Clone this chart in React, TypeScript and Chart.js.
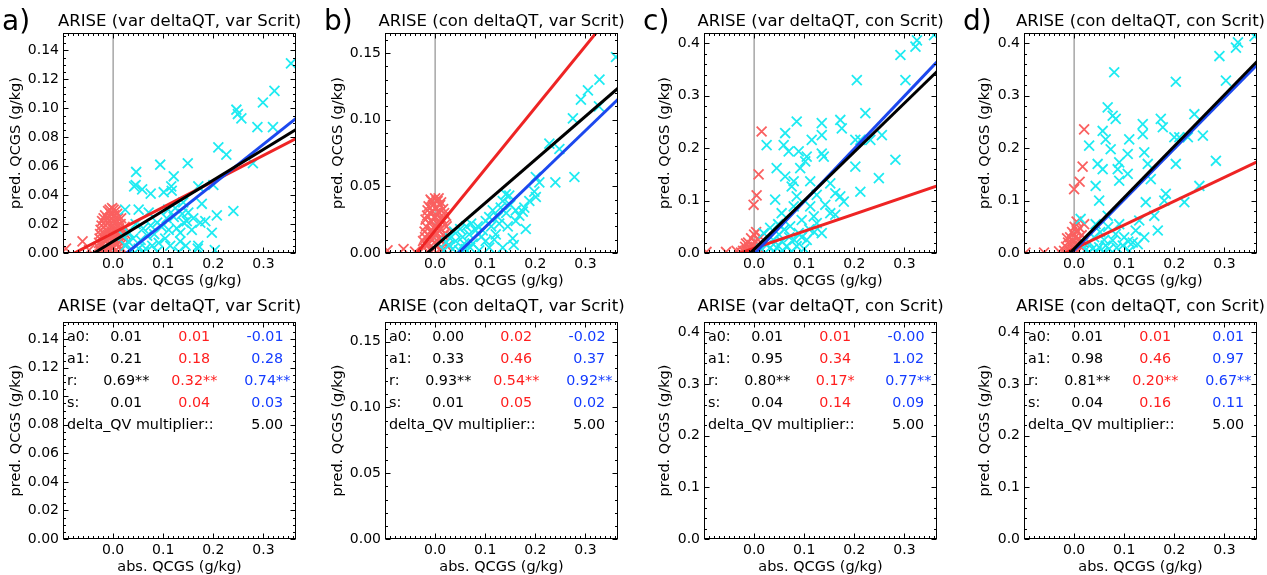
import React, { useEffect, useRef } from 'react';
import { Chart, registerables } from 'chart.js';
Chart.register(...registerables);

// ---------- axes ----------
const X_MIN = -0.1;
const X_MAX = 0.365;
const xTickValues = [0.0, 0.1, 0.2, 0.3];
const xMinorStep = 0.01;
const xMajorStep = 0.1;

const panelLetters = ['a)', 'b)', 'c)', 'd)'];
const panelTitles = [
  'ARISE (var deltaQT, var Scrit)',
  'ARISE (con deltaQT, var Scrit)',
  'ARISE (var deltaQT, con Scrit)',
  'ARISE (con deltaQT, con Scrit)',
];
const xAxisTitle = 'abs. QCGS (g/kg)';
const yAxisTitle = 'pred. QCGS (g/kg)';

const yMaxValues = [0.152, 0.165, 0.42, 0.42];
const yTickValues = [
  [0, 0.02, 0.04, 0.06, 0.08, 0.1, 0.12, 0.14],
  [0, 0.05, 0.1, 0.15],
  [0, 0.1, 0.2, 0.3, 0.4],
  [0, 0.1, 0.2, 0.3, 0.4],
];
const yMajorStep = [0.02, 0.05, 0.1, 0.1];
const yMinorStep = [0.005, 0.01, 0.02, 0.02];
const yDecimals = [2, 2, 1, 1];

// ---------- regression lines (intercept, slope) ----------
const fitAllA0 = [0.008, 0.005, 0.007, 0.008];
const fitAllA1 = [0.212, 0.325, 0.93, 0.98];
const fitNegA0 = [0.0138, 0.0168, 0.009, 0.008];
const fitNegA1 = [0.179, 0.4615, 0.326, 0.455];
const fitPosA0 = [-0.0074, -0.0168, -0.002, 0.005];
const fitPosA1 = [0.275, 0.362, 1.005, 0.97];

// ---------- statistics table ----------
const tableRowLabels = ['a0:', 'a1:', 'r:', 's:'];
const tableBlack = [
  ['0.01', '0.21', '0.69**', '0.01'],
  ['0.00', '0.33', '0.93**', '0.01'],
  ['0.01', '0.95', '0.80**', '0.04'],
  ['0.01', '0.98', '0.81**', '0.04'],
];
const tableRed = [
  ['0.01', '0.18', '0.32**', '0.04'],
  ['0.02', '0.46', '0.54**', '0.05'],
  ['0.01', '0.34', '0.17*', '0.14'],
  ['0.01', '0.46', '0.20**', '0.16'],
];
const tableBlue = [
  ['-0.01', '0.28', '0.74**', '0.03'],
  ['-0.02', '0.37', '0.92**', '0.02'],
  ['-0.00', '1.02', '0.77**', '0.09'],
  ['0.01', '0.97', '0.67**', '0.11'],
];
const multiplierLabel = 'delta_QV multiplier::';
const multiplierValues = ['5.00', '5.00', '5.00', '5.00'];

// ---------- scatter data: [obs, pred] ----------
const cyanA = [
  [0.355, 0.131], [0.322, 0.112], [0.299, 0.104], [0.319, 0.087], [0.288, 0.087], [0.246, 0.099],
  [0.249, 0.096], [0.256, 0.093], [0.279, 0.062], [0.21, 0.073], [0.226, 0.068], [0.24, 0.029],
  [0.207, 0.026], [0.2, 0.047], [0.177, 0.034], [0.17, 0.046], [0.149, 0.062], [0.121, 0.053],
  [0.116, 0.046], [0.117, 0.043], [0.094, 0.061], [0.101, 0.042], [0.075, 0.041], [0.058, 0.044],
  [0.046, 0.056], [0.045, 0.047], [0.042, 0.046], [0.051, 0.03], [0.024, 0.03], [0.071, 0.028],
  [0.088, 0.021], [0.111, 0.016], [0.121, 0.025], [0.127, 0.017], [0.134, 0.014], [0.141, 0.021],
  [0.15, 0.028], [0.147, 0.022], [0.157, 0.016], [0.174, 0.021], [0.184, 0.022], [0.197, 0.014],
  [0.17, 0.005], [0.169, 0.003], [0.203, 0.002], [0.104, 0.01], [0.091, 0.007], [0.078, 0.005],
  [0.065, 0.003], [0.051, 0.003], [0.038, 0.002], [0.025, 0.005], [0.032, 0.014], [0.134, 0.008],
  [0.114, 0.005], [0.088, 0.001], [0.061, 0.001], [0.131, 0.001], [0.03, 0.008], [0.04, 0.01],
  [0.055, 0.009], [0.068, 0.012], [0.082, 0.013], [0.097, 0.018], [0.107, 0.024], [0.124, 0.031],
  [0.138, 0.027], [0.16, 0.024], [0.045, 0.02], [0.06, 0.017], [0.075, 0.019], [0.02, 0.012],
  [0.11, 0.03], [0.14, 0.035], [0.145, 0.005],
];
const redA = [
  [-0.094, 0.003], [-0.061, 0.008], [-0.048, 0.002], [-0.03, 0.004], [-0.027, 0.01], [-0.025, 0.016],
  [-0.022, 0.022], [-0.02, 0.006], [-0.018, 0.013], [-0.016, 0.026], [-0.015, 0.019], [-0.013, 0.003],
  [-0.012, 0.009], [-0.01, 0.029], [-0.01, 0.015], [-0.008, 0.022], [-0.007, 0.005], [-0.006, 0.012],
  [-0.005, 0.027], [-0.004, 0.018], [-0.003, 0.008], [-0.002, 0.031], [-0.001, 0.014], [0.0, 0.022],
  [0.001, 0.004], [0.002, 0.026], [0.003, 0.01], [0.004, 0.017], [0.005, 0.029], [0.006, 0.021],
  [0.007, 0.006], [0.008, 0.013], [0.01, 0.024], [0.012, 0.017], [0.013, 0.008], [0.015, 0.02],
  [0.017, 0.013], [0.02, 0.016], [0.022, 0.01], [-0.024, 0.001], [-0.014, 0.001], [0.01, 0.001],
  [0.018, 0.003], [-0.028, 0.007], [-0.026, 0.013], [-0.023, 0.019], [-0.021, 0.003], [-0.019, 0.024],
  [-0.017, 0.009], [-0.014, 0.016], [-0.011, 0.024], [-0.009, 0.011], [-0.007, 0.03], [-0.006, 0.002],
  [-0.003, 0.024], [-0.002, 0.004], [0.0, 0.012], [0.001, 0.03], [0.002, 0.018], [0.004, 0.007],
  [0.006, 0.014], [0.008, 0.027], [0.009, 0.019], [0.011, 0.004], [0.014, 0.014], [0.016, 0.024],
  [0.019, 0.007], [0.023, 0.018], [0.025, 0.013],
];
const cyanB = [
  [0.361, 0.147], [0.328, 0.13], [0.305, 0.122], [0.291, 0.115], [0.327, 0.11], [0.275, 0.101],
  [0.228, 0.082], [0.248, 0.078], [0.278, 0.057], [0.24, 0.053], [0.201, 0.057], [0.208, 0.053],
  [0.198, 0.046], [0.201, 0.042], [0.178, 0.034], [0.175, 0.031], [0.161, 0.024], [0.181, 0.018],
  [0.148, 0.043], [0.141, 0.044], [0.135, 0.039], [0.131, 0.034], [0.125, 0.027], [0.115, 0.032],
  [0.108, 0.027], [0.101, 0.024], [0.095, 0.017], [0.081, 0.017], [0.068, 0.014], [0.055, 0.012],
  [0.041, 0.009], [0.028, 0.006], [0.075, 0.007], [0.101, 0.009], [0.121, 0.014], [0.135, 0.004],
  [0.155, 0.011], [0.161, 0.032], [0.188, 0.039], [0.061, 0.003], [0.048, 0.002], [0.088, 0.002],
  [0.018, 0.002], [0.03, 0.011], [0.038, 0.016], [0.05, 0.018], [0.062, 0.02], [0.072, 0.022],
  [0.085, 0.02], [0.092, 0.012], [0.112, 0.02], [0.118, 0.01], [0.128, 0.022], [0.142, 0.03],
  [0.15, 0.036], [0.022, 0.008], [0.035, 0.003], [0.058, 0.007], [0.07, 0.004], [0.108, 0.004],
  [0.145, 0.02], [0.168, 0.028], [0.157, 0.006],
];
const redB = [
  [-0.095, 0.002], [-0.063, 0.003], [-0.04, 0.001], [-0.022, 0.004], [-0.02, 0.012], [-0.018, 0.02],
  [-0.016, 0.028], [-0.013, 0.035], [-0.012, 0.007], [-0.01, 0.016], [-0.008, 0.024], [-0.007, 0.039],
  [-0.005, 0.031], [-0.004, 0.003], [-0.003, 0.012], [-0.001, 0.02], [0.0, 0.041], [0.001, 0.027],
  [0.002, 0.034], [0.003, 0.006], [0.004, 0.015], [0.005, 0.039], [0.006, 0.023], [0.008, 0.03],
  [0.009, 0.01], [0.01, 0.036], [0.011, 0.018], [0.013, 0.026], [0.014, 0.004], [0.016, 0.033],
  [0.017, 0.013], [0.019, 0.021], [0.021, 0.008], [0.022, 0.028], [-0.015, 0.001], [0.012, 0.001],
  [-0.009, 0.04], [0.007, 0.041], [-0.024, 0.009], [-0.021, 0.016], [-0.019, 0.025], [-0.017, 0.006],
  [-0.015, 0.032], [-0.014, 0.014], [-0.011, 0.022], [-0.01, 0.03], [-0.009, 0.002], [-0.006, 0.017],
  [-0.004, 0.036], [-0.002, 0.027], [-0.001, 0.008], [0.001, 0.014], [0.003, 0.039], [0.004, 0.022],
  [0.006, 0.031], [0.008, 0.017], [0.01, 0.003], [0.012, 0.038], [0.013, 0.011], [0.015, 0.024],
  [0.018, 0.03], [0.02, 0.015], [0.023, 0.02], [0.024, 0.005],
];
const cyanC = [
  [0.359, 0.416], [0.325, 0.406], [0.322, 0.394], [0.292, 0.378], [0.302, 0.33], [0.205, 0.33],
  [0.222, 0.267], [0.255, 0.225], [0.282, 0.178], [0.249, 0.143], [0.212, 0.117], [0.202, 0.165],
  [0.202, 0.216], [0.212, 0.216], [0.232, 0.216], [0.172, 0.254], [0.175, 0.238], [0.135, 0.248],
  [0.135, 0.225], [0.135, 0.19], [0.139, 0.184], [0.115, 0.216], [0.089, 0.194], [0.085, 0.251],
  [0.062, 0.229], [0.059, 0.206], [0.069, 0.194], [0.025, 0.206], [0.045, 0.162], [0.062, 0.146],
  [0.042, 0.102], [0.092, 0.162], [0.102, 0.175], [0.105, 0.184], [0.112, 0.137], [0.079, 0.137],
  [0.075, 0.127], [0.125, 0.111], [0.152, 0.133], [0.162, 0.114], [0.172, 0.108], [0.179, 0.098],
  [0.152, 0.076], [0.162, 0.073], [0.119, 0.07], [0.125, 0.057], [0.135, 0.038], [0.105, 0.025],
  [0.089, 0.038], [0.072, 0.051], [0.055, 0.076], [0.032, 0.048], [0.019, 0.038], [0.055, 0.022],
  [0.065, 0.013], [0.045, 0.01], [0.085, 0.013], [0.032, 0.01], [0.079, 0.089], [0.095, 0.063],
  [0.112, 0.089], [0.142, 0.092], [0.085, 0.108], [0.025, 0.015], [0.038, 0.025], [0.05, 0.035],
  [0.06, 0.045], [0.07, 0.03], [0.08, 0.025], [0.095, 0.03], [0.11, 0.045], [0.12, 0.04],
  [0.1, 0.008], [0.058, 0.004], [0.04, 0.003], [0.075, 0.002], [0.048, 0.055], [0.015, 0.008],
];
const redC = [
  [-0.095, 0.002], [-0.056, 0.002], [-0.035, 0.004], [0.015, 0.232], [0.009, 0.15], [0.005, 0.11],
  [-0.001, 0.092], [-0.022, 0.004], [-0.018, 0.012], [-0.015, 0.006], [-0.012, 0.02], [-0.01, 0.01],
  [-0.008, 0.003], [-0.006, 0.028], [-0.004, 0.015], [-0.002, 0.006], [0.0, 0.035], [0.001, 0.022],
  [0.003, 0.012], [0.004, 0.04], [0.005, 0.004], [0.007, 0.026], [0.009, 0.016], [0.011, 0.008],
  [0.013, 0.03], [-0.016, 0.018], [-0.026, 0.001],
];
const cyanD = [
  [0.36, 0.414], [0.327, 0.402], [0.323, 0.392], [0.29, 0.376], [0.303, 0.329], [0.203, 0.327],
  [0.08, 0.345], [0.067, 0.278], [0.083, 0.256], [0.077, 0.262], [0.057, 0.233], [0.063, 0.217],
  [0.073, 0.198], [0.03, 0.205], [0.047, 0.17], [0.057, 0.16], [0.09, 0.173], [0.087, 0.16],
  [0.09, 0.138], [0.11, 0.217], [0.107, 0.189], [0.107, 0.151], [0.137, 0.246], [0.137, 0.227],
  [0.14, 0.192], [0.147, 0.17], [0.153, 0.141], [0.173, 0.256], [0.177, 0.24], [0.2, 0.221],
  [0.21, 0.221], [0.227, 0.221], [0.24, 0.265], [0.257, 0.224], [0.203, 0.17], [0.283, 0.176],
  [0.25, 0.128], [0.22, 0.097], [0.183, 0.113], [0.18, 0.1], [0.16, 0.071], [0.167, 0.043],
  [0.13, 0.062], [0.123, 0.043], [0.117, 0.02], [0.127, 0.017], [0.043, 0.128], [0.05, 0.1],
  [0.067, 0.071], [0.013, 0.065], [0.043, 0.055], [0.09, 0.055], [0.083, 0.036], [0.077, 0.024],
  [0.063, 0.014], [0.05, 0.011], [0.037, 0.008], [0.023, 0.006], [0.097, 0.014], [0.143, 0.097],
  [0.03, 0.02], [0.04, 0.03], [0.052, 0.04], [0.06, 0.025], [0.07, 0.008], [0.085, 0.01],
  [0.1, 0.03], [0.108, 0.022], [0.045, 0.003], [0.03, 0.002], [0.058, 0.002], [0.11, 0.004],
  [0.068, 0.05], [0.14, 0.03],
];
const redD = [
  [-0.097, 0.001], [-0.06, 0.001], [-0.03, 0.003], [0.02, 0.236], [0.017, 0.165], [0.011, 0.136],
  [0.0, 0.122], [-0.02, 0.004], [-0.016, 0.012], [-0.012, 0.02], [-0.01, 0.006], [-0.008, 0.03],
  [-0.006, 0.014], [-0.004, 0.04], [-0.002, 0.022], [0.0, 0.008], [0.001, 0.05], [0.002, 0.03],
  [0.004, 0.016], [0.005, 0.06], [0.006, 0.04], [0.008, 0.004], [0.009, 0.026], [0.011, 0.048],
  [0.013, 0.012], [0.015, 0.034], [0.018, 0.02], [0.02, 0.055], [-0.014, 0.028],
];
const cyanSets = [cyanA, cyanB, cyanC, cyanD];
const redSets = [redA, redB, redC, redD];

// ---------- layout ----------
const plotLefts = [63, 385, 704, 1024];
const PLOT_W = 233;
const rowTops = [33, 322];
const rowHeights = [220, 217];
const yAxisWidths = [55, 55, 47, 47];

const FONT = '"DejaVu Sans", "Liberation Sans", sans-serif';
const CYAN = 'rgb(30,235,242)';
const SALMON = 'rgb(250,96,96)';
const RED_LINE = 'rgb(238,36,36)';
const BLUE_LINE = 'rgb(28,72,238)';
const RED_TXT = 'rgb(255,30,30)';
const BLUE_TXT = 'rgb(20,60,255)';

const toXY = (arr: number[][]) => arr.map(([x, y]) => ({ x, y }));
const fitLine = (a0: number, a1: number) => [
  { x: X_MIN, y: a0 + a1 * X_MIN },
  { x: X_MAX, y: a0 + a1 * X_MAX },
];

const framePlugin = {
  id: 'idlFrame',
  afterDraw(chart: any) {
    const { ctx, chartArea: a } = chart;
    const xs = chart.scales.x;
    const ys = chart.scales.y;
    const o = chart.options.plugins.idlFrame;
    const p = o.panel as number;
    const row = o.row as number;
    ctx.save();
    ctx.strokeStyle = '#000';
    ctx.lineWidth = 1;
    const l = Math.round(a.left) + 0.5;
    const r = Math.round(a.right) - 0.5;
    const t = Math.round(a.top) + 0.5;
    const b = Math.round(a.bottom) - 0.5;
    ctx.strokeRect(l, t, r - l, b - t);
    const seg = (x1: number, y1: number, x2: number, y2: number) => {
      ctx.beginPath();
      ctx.moveTo(x1, y1);
      ctx.lineTo(x2, y2);
      ctx.stroke();
    };
    const k0 = Math.ceil(X_MIN / xMinorStep - 1e-6);
    for (let k = k0; k * xMinorStep <= X_MAX + 1e-9; k++) {
      const v = k * xMinorStep;
      const ratio = v / xMajorStep;
      const major = Math.abs(ratio - Math.round(ratio)) < 1e-6;
      const len = major ? 5 : 2.5;
      const px = Math.round(xs.getPixelForValue(v)) + 0.5;
      seg(px, b, px, b - len);
      seg(px, t, px, t + len);
    }
    const ymax = yMaxValues[p];
    for (let k = 0; k * yMinorStep[p] <= ymax + 1e-9; k++) {
      const v = k * yMinorStep[p];
      const ratio = v / yMajorStep[p];
      const major = Math.abs(ratio - Math.round(ratio)) < 1e-6;
      const len = major ? 5 : 2.5;
      const py = Math.round(ys.getPixelForValue(v)) + 0.5;
      seg(l, py, l + len, py);
      seg(r, py, r - len, py);
    }
    const cx = (a.left + a.right) / 2;
    ctx.fillStyle = '#000';
    ctx.textBaseline = 'middle';
    ctx.textAlign = 'center';
    ctx.font = `16.5px ${FONT}`;
    ctx.fillText(panelTitles[p], cx, a.top - (row === 0 ? 11 : 15));
    if (row === 0) {
      ctx.textAlign = 'left';
      ctx.font = `28px ${FONT}`;
      ctx.fillText(panelLetters[p], a.left - 61, a.top - 10);
    } else {
      ctx.font = `14.3px ${FONT}`;
      const colC = [a.left + 61, a.left + 129, a.left + 202];
      const fmt = (s: string) => (s.startsWith('-') ? s : ' ' + s);
      for (let i = 0; i < tableRowLabels.length; i++) {
        const y = a.top + 15 + 22 * i;
        ctx.textAlign = 'left';
        ctx.fillStyle = '#000';
        ctx.fillText(tableRowLabels[i], a.left + 4, y);
        ctx.textAlign = 'center';
        ctx.fillStyle = '#000';
        ctx.fillText(fmt(tableBlack[p][i]), colC[0], y);
        ctx.fillStyle = RED_TXT;
        ctx.fillText(fmt(tableRed[p][i]), colC[1], y);
        ctx.fillStyle = BLUE_TXT;
        ctx.fillText(fmt(tableBlue[p][i]), colC[2], y);
      }
      const y5 = a.top + 15 + 22 * 4;
      ctx.fillStyle = '#000';
      ctx.textAlign = 'left';
      ctx.fillText(multiplierLabel, a.left + 4, y5);
      ctx.textAlign = 'center';
      ctx.fillText(fmt(multiplierValues[p]), colC[2], y5);
    }
    ctx.restore();
  },
};

function Panel({ panel, row }: { panel: number; row: number }) {
  const ref = useRef<HTMLCanvasElement | null>(null);
  const L = plotLefts[panel];
  const T = rowTops[row];
  const H = rowHeights[row];
  const yW = yAxisWidths[panel];
  const cw = PLOT_W + 64 + 10;
  const ch = 33 + H + 37 + 2;

  useEffect(() => {
    if (!ref.current) return;
    const ymax = yMaxValues[panel];
    const datasets: any[] = [];
    if (row === 0) {
      const lineDs = (data: any[], color: string) => ({
        data,
        showLine: true,
        borderColor: color,
        borderWidth: 3,
        pointRadius: 0,
        fill: false,
        clip: 0,
      });
      datasets.push(lineDs(fitLine(fitAllA0[panel], fitAllA1[panel]), '#000'));
      datasets.push(lineDs(fitLine(fitPosA0[panel], fitPosA1[panel]), BLUE_LINE));
      datasets.push(lineDs(fitLine(fitNegA0[panel], fitNegA1[panel]), RED_LINE));
      datasets.push({
        data: toXY(cyanSets[panel]),
        pointStyle: 'crossRot',
        pointRadius: 7,
        pointBorderWidth: 1.8,
        borderColor: CYAN,
        backgroundColor: CYAN,
        showLine: false,
        clip: 0,
      });
      datasets.push({
        data: toXY(redSets[panel]),
        pointStyle: 'crossRot',
        pointRadius: 7,
        pointBorderWidth: 1.8,
        borderColor: SALMON,
        backgroundColor: SALMON,
        showLine: false,
        clip: 0,
      });
      datasets.push({
        data: [{ x: 0, y: 0 }, { x: 0, y: ymax }],
        showLine: true,
        borderColor: '#7a7a7a',
        borderWidth: 1,
        pointRadius: 0,
        clip: 0,
      });
    }
    const tickFont = { family: FONT, size: 14 };
    const titleFont = { family: FONT, size: 14.5 };
    const chart = new Chart(ref.current, {
      type: 'scatter',
      data: { datasets },
      plugins: [framePlugin],
      options: {
        animation: false,
        responsive: false,
        maintainAspectRatio: false,
        events: [],
        layout: { padding: { left: 64 - yW, top: 33, right: 10, bottom: 2 } },
        plugins: {
          legend: { display: false },
          tooltip: { enabled: false },
          title: { display: false },
          idlFrame: { panel, row },
        } as any,
        scales: {
          x: {
            type: 'linear',
            min: X_MIN,
            max: X_MAX,
            grid: { display: false, drawTicks: false },
            border: { display: false },
            ticks: {
              color: '#000',
              font: tickFont,
              padding: 3,
              maxRotation: 0,
              autoSkip: false,
              callback: (v: any) => Number(v).toFixed(1),
            },
            title: { display: true, text: xAxisTitle, color: '#000', font: titleFont, padding: 0 },
            afterBuildTicks: (s: any) => {
              s.ticks = xTickValues.map((v) => ({ value: v }));
            },
            afterFit: (s: any) => {
              s.height = 37;
            },
          },
          y: {
            type: 'linear',
            min: 0,
            max: ymax,
            grid: { display: false, drawTicks: false },
            border: { display: false },
            ticks: {
              color: '#000',
              font: tickFont,
              padding: 4,
              autoSkip: false,
              callback: (v: any) => Number(v).toFixed(yDecimals[panel]),
            },
            title: { display: true, text: yAxisTitle, color: '#000', font: titleFont, padding: 0 },
            afterBuildTicks: (s: any) => {
              s.ticks = yTickValues[panel].map((v) => ({ value: v }));
            },
            afterFit: (s: any) => {
              s.width = yW;
            },
          },
        } as any,
      } as any,
    });
    return () => chart.destroy();
  }, [panel, row]);

  return (
    <canvas
      ref={ref}
      width={cw}
      height={ch}
      style={{ position: 'absolute', left: L - 64, top: T - 33, width: cw, height: ch }}
    />
  );
}

export default function App() {
  const panels = [0, 1, 2, 3];
  return (
    <div style={{ position: 'absolute', left: 0, top: 0, width: 1267, height: 575, background: '#fff', overflow: 'hidden' }}>
      {panels.map((p) => (
        <Panel key={'t' + p} panel={p} row={0} />
      ))}
      {panels.map((p) => (
        <Panel key={'b' + p} panel={p} row={1} />
      ))}
    </div>
  );
}
